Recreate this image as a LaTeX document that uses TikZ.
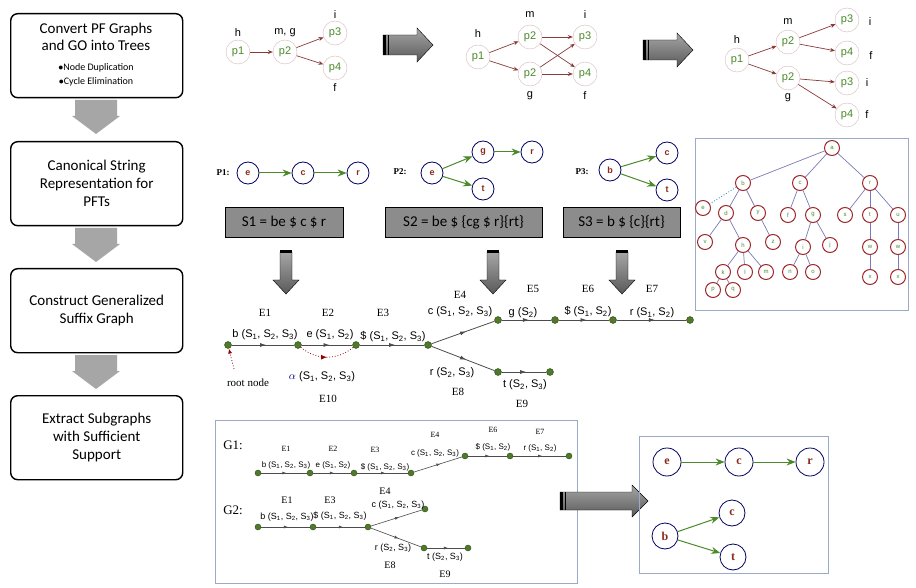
\documentclass[tikz,border=0pt]{standalone}
\usepackage{fontspec}
\setmainfont{Carlito}
\newfontfamily\arl{Liberation Sans}
\newfontfamily\tms{Liberation Serif}
\usetikzlibrary{arrows.meta,decorations.markings,shapes.geometric}
\definecolor{pbrown}{HTML}{8B3A3A}
\definecolor{pgreen}{HTML}{4A8A2A}
\definecolor{dred}{HTML}{8B2A1A}
\definecolor{tred}{HTML}{A0282A}
\definecolor{tedge}{HTML}{7A7AB8}
\definecolor{sgreen}{HTML}{4E7A2A}
\definecolor{boxb}{HTML}{9AAAC8}
\newcommand{\sS}[1]{S\textsubscript{#1}}
\begin{document}
\begin{tikzpicture}[x=1pt,y=-1pt,
 stepbox/.style={draw=black,line width=1.4pt,rounded corners=7pt,minimum width=172pt,minimum height=84pt,anchor=north west,align=center,font=\fontsize{15}{18}\selectfont},
 pn/.style={circle,draw=pbrown!35,fill=white,minimum size=24pt,inner sep=0pt,text=pgreen,font=\arl\fontsize{11}{12}\selectfont},
 pe/.style={draw=pbrown,line width=0.7pt,-{Stealth[length=5pt,width=4pt]}},
 lab/.style={font=\arl\fontsize{11}{12}\selectfont},
 qn/.style={circle,draw=blue!40!black,line width=0.8pt,fill=white,minimum size=22pt,inner sep=0pt,text=dred,font=\arl\bfseries\fontsize{9}{10}\selectfont},
 qe/.style={draw=pgreen,line width=1pt,-{Stealth[length=9pt,width=7pt,inset=3pt]}},
 tn/.style={circle,draw=tred,line width=1pt,fill=white,minimum size=15pt,inner sep=0pt,text=pgreen,font=\arl\fontsize{6}{7}\selectfont},
 te/.style={draw=tedge,line width=0.7pt},
 sn/.style={circle,draw=sgreen!60!black,fill=sgreen,minimum size=7pt,inner sep=0pt},
 se/.style={draw=black!70,line width=0.8pt,postaction={decorate},decoration={markings,mark=at position 0.55 with {\arrow{Latex[length=6pt,width=4pt]}}}},
 sl/.style={font=\arl\fontsize{11}{12}\selectfont},
 el/.style={font=\tms\fontsize{11}{12}\selectfont},
 sel/.style={draw=black!70,line width=0.6pt,postaction={decorate},decoration={markings,mark=at position 0.55 with {\arrow{Latex[length=4pt,width=3pt]}}}},
 ssn/.style={circle,draw=sgreen!60!black,fill=sgreen,minimum size=6pt,inner sep=0pt},
 gsl/.style={font=\arl\fontsize{8}{9}\selectfont},
 gel/.style={font=\tms\fontsize{8}{9}\selectfont},
 hsl/.style={font=\arl\fontsize{9}{10}\selectfont},
 hel/.style={font=\tms\fontsize{10}{11}\selectfont},
 sbox/.style={draw=black,fill=black!45,minimum height=30pt,font=\fontsize{15}{18}\selectfont}]
\useasboundingbox (0,0) rectangle (916,588);
\fill[white] (0,0) rectangle (916,588);

% left column
\node[stepbox] (b1) at (10,13) {};
\node[align=center,font=\fontsize{15}{17}\selectfont] (b1t) at (96,37) {Convert PF Graphs\\and GO into Trees};
\node[font=\fontsize{10}{14}\selectfont,align=center] (b1s) at (96,75) {$\bullet$Node Duplication\\$\bullet$Cycle Elimination};
\node[stepbox] (b2) at (10,141) {Canonical String\\Representation for\\PFTs};
\node[stepbox] (b3) at (10,268) {Construct Generalized\\Suffix Graph};
\node[stepbox] (b4) at (10,395) {Extract Subgraphs\\with Sufficient\\Support};
\foreach \y in {100,228,355}{
 \fill[black!35] (75,\y) -- (117,\y) -- (117,\y+16) -- (120,\y+16) -- (96,\y+34) -- (72,\y+16) -- (75,\y+16) -- cycle;}

% top row graph 1
\node[pn] (a1) at (238,52) {p1};
\node[pn] (a2) at (285,52) {p2};
\node[pn] (a3) at (335,33) {p3};
\node[pn] (a4) at (335,68) {p4};
\draw[pe] (a1) -- (a2); \draw[pe] (a2) -- (a3); \draw[pe] (a2) -- (a4);
\node[lab] (la1) at (238,33) {h};
\node[lab] (la2) at (285,33) {m, g};
\node[lab] (la3) at (335,15) {i};
\node[lab] (la4) at (335,88) {f};
% arrows right
\foreach \x/\y in {383/45,643/50}{
 \shade[top color=black!35,bottom color=black!65,draw=black,line width=0.4pt] (\x,\y-10) -- (\x+34,\y-10) -- (\x+34,\y-17) -- (\x+50,\y) -- (\x+34,\y+17) -- (\x+34,\y+10) -- (\x,\y+10) -- cycle;
 \fill[black] (\x,\y-10) rectangle (\x+3,\y+10);
 \fill[black] (\x+4.5,\y-10) rectangle (\x+5.5,\y+10);}
% graph 2
\node[pn] (c1) at (478,57) {p1};
\node[pn] (c2) at (530,37) {p2};
\node[pn] (c3) at (530,74) {p2};
\node[pn] (c4) at (585,37) {p3};
\node[pn] (c5) at (585,74) {p4};
\draw[pe] (c1) -- (c2); \draw[pe] (c1) -- (c3);
\draw[pe] (c2) -- (c4); \draw[pe] (c2) -- (c5);
\draw[pe] (c3) -- (c4); \draw[pe] (c3) -- (c5);
\node[lab] (lc1) at (478,34) {h};
\node[lab] (lc2) at (530,15) {m};
\node[lab] (lc3) at (530,96) {g};
\node[lab] (lc4) at (585,15) {i};
\node[lab] (lc5) at (585,96) {f};
% graph 3
\node[pn] (d1) at (737,60) {p1};
\node[pn] (d2) at (788,42) {p2};
\node[pn] (d3) at (788,78) {p2};
\node[pn] (d4) at (847,20) {p3};
\node[pn] (d5) at (847,53) {p4};
\node[pn] (d6) at (847,83) {p3};
\node[pn] (d7) at (847,115) {p4};
\draw[pe] (d1) -- (d2); \draw[pe] (d1) -- (d3);
\draw[pe] (d2) -- (d4); \draw[pe] (d2) -- (d5);
\draw[pe] (d3) -- (d6); \draw[pe] (d3) -- (d7);
\node[lab] (ld1) at (737,40) {h};
\node[lab] (ld2) at (788,22) {m};
\node[lab] (ld3) at (788,98) {g};
\node[lab] (ld4) at (870,22) {i};
\node[lab] (ld5) at (871,56) {f};
\node[lab] (ld6) at (867,83) {i};
\node[lab] (ld7) at (867,115) {f};

% P1 P2 P3
\node[font=\tms\bfseries\fontsize{9}{10}\selectfont] (P1) at (223,173) {P1:};
\node[qn] (e1) at (248,173) {e};
\node[qn] (e2) at (303,173) {c};
\node[qn] (e3) at (358,173) {r};
\draw[qe] (e1) -- (e2); \draw[qe] (e2) -- (e3);
\node[font=\tms\bfseries\fontsize{9}{10}\selectfont] (P2) at (400,172) {P2:};
\node[qn] (f1) at (432,173) {e};
\node[qn] (f2) at (483,152) {g};
\node[qn] (f3) at (532,152) {r};
\node[qn] (f4) at (483,189) {t};
\draw[qe] (f1) -- (f2); \draw[qe] (f2) -- (f3); \draw[qe] (f1) -- (f4);
\node[font=\tms\bfseries\fontsize{9}{10}\selectfont] (P3) at (582,172) {P3:};
\node[qn] (g1) at (610,170) {b};
\node[qn] (g2) at (667,153) {c};
\node[qn] (g3) at (667,190) {t};
\draw[qe] (g1) -- (g2); \draw[qe] (g1) -- (g3);
\node[sbox,minimum width=118pt] (S1) at (284,222) {S1 = be \$ c \$ r};
\node[sbox,minimum width=157pt] (S2) at (463.5,222) {S2 = be \$ \{cg \$ r\}\{rt\}};
\node[sbox,minimum width=117pt] (S3) at (621.5,222) {S3 = b \$ \{c\}\{rt\}};
% down arrows
\foreach \x in {286,493,622}{
 \shade[top color=black!35,bottom color=black!65,draw=black,line width=0.4pt] (\x-6,252) -- (\x+6,252) -- (\x+6,280) -- (\x+13,280) -- (\x,294) -- (\x-13,280) -- (\x-6,280) -- cycle;
 \fill[black] (\x-6,250) rectangle (\x+6,253);}

% tree box
\draw[boxb,line width=0.8pt] (695,138) rectangle (908,310);
\node[tn] (ta) at (832,148) {a};
\node[tn] (tb) at (743,183) {b};
\node[tn] (tc) at (800,183) {c};
\node[tn] (tr) at (870,183) {r};
\node[tn] (te) at (703,208) {e};
\node[tn] (td) at (726,213) {d};
\node[tn] (ty) at (758,213) {y};
\node[tn] (tf) at (788,215) {f};
\node[tn] (tg) at (813,215) {g};
\node[tn] (ts) at (845,215) {s};
\node[tn] (tt) at (870,215) {t};
\node[tn] (tu) at (898,215) {u};
\node[tn] (tv) at (705,242) {v};
\node[tn] (th) at (743,245) {h};
\node[tn] (tz) at (773,242) {z};
\node[tn] (ti) at (803,247) {i};
\node[tn] (tj) at (830,245) {j};
\node[tn] (tw1) at (870,247) {w};
\node[tn] (tw2) at (898,247) {w};
\node[tn] (tk) at (723,272) {k};
\node[tn] (tl) at (745,272) {l};
\node[tn] (tm) at (766,272) {m};
\node[tn] (tn1) at (790,272) {n};
\node[tn] (to) at (813,272) {o};
\node[tn] (tx1) at (870,277) {x};
\node[tn] (tx2) at (898,277) {x};
\node[tn] (tp) at (713,290) {p};
\node[tn] (tq) at (733,290) {q};
\foreach \u/\v in {ta/tb,ta/tc,ta/tr,tb/td,tb/ty,tc/tf,tc/tg,tr/ts,tr/tt,tr/tu,td/tv,td/th,ty/tz,tg/ti,tg/tj,tt/tw1,tu/tw2,th/tk,th/tl,th/tm,ti/tn1,ti/to,tw1/tx1,tw2/tx2,tk/tp,tk/tq}
 \draw[te] (\u) -- (\v);
\draw[cyan!60!blue,dotted,line width=0.8pt] (tb) -- (te);

% suffix graph
\node[sn] (s1) at (228,345) {};
\node[sn] (s2) at (298,345) {};
\node[sn] (s3) at (356,345) {};
\node[sn] (s4) at (428,345) {};
\node[sn] (s5) at (498,320) {};
\node[sn] (s6) at (555,320) {};
\node[sn] (s7) at (613,320) {};
\node[sn] (s8) at (690,320) {};
\node[sn] (s9) at (498,372) {};
\node[sn] (s10) at (550,372) {};
\draw[se] (s1) -- (s2); \draw[se] (s2) -- (s3); \draw[se] (s3) -- (s4);
\draw[se] (s4) -- (s5); \draw[se] (s5) -- (s6); \draw[se] (s6) -- (s7);
\draw[se] (s7) -- (s8); \draw[se] (s4) -- (s9); \draw[se] (s9) -- (s10);
\draw[red!60!black,dotted,line width=0.8pt,postaction={decorate},decoration={markings,mark=at position 0.5 with {\arrow{Latex[length=6pt,width=5pt]}}}] (s2) to[out=-40,in=-140] (s3);
\node[el] (E1) at (265,313) {E1};
\node[sl] (l1) at (265,335) {b (\sS1, \sS2, \sS3)};
\node[el] (E2) at (328,313) {E2};
\node[sl] (l2) at (330,335) {e (\sS1, \sS2)};
\node[el] (E3) at (383,313) {E3};
\node[sl] (l3) at (393,337) {\$ (\sS1, \sS2, \sS3)};
\node[el] (E4) at (460,295) {E4};
\node[sl] (l4) at (460,312) {c (\sS1, \sS2, \sS3)};
\node[el] (E5) at (533,289) {E5};
\node[sl] (l5) at (523,313) {g (\sS2)};
\node[el] (E6) at (588,289) {E6};
\node[sl] (l6) at (588,312) {\$ (\sS1, \sS2)};
\node[el] (E7) at (652,289) {E7};
\node[sl] (l7) at (652,313) {r (\sS1, \sS2)};
\node[sl] (l8) at (452,373) {r (\sS2, \sS3)};
\node[el] (E8) at (458,392) {E8};
\node[sl] (l9) at (525,385) {t (\sS2, \sS3)};
\node[el] (E9) at (522,404) {E9};
\node[sl] (l10) at (322,377) {{\color{blue!50!black}$\alpha$} (\sS1, \sS2, \sS3)};
\node[el] (E10) at (328,399) {E10};
\node[el] (root) at (248,383) {root node};
\coordinate (rs) at (234,369);
\draw[red!60!black,dotted,line width=0.8pt,-{Latex[length=5pt,width=4pt]}] (rs) -- (s1);

% G box
\draw[boxb,line width=0.8pt] (215,420) rectangle (577,583);
\node[font=\tms\fontsize{13}{14}\selectfont] (G1) at (233,445) {G1:};
\node[ssn] (h1) at (258,473) {};
\node[ssn] (h2) at (310,473) {};
\node[ssn] (h3) at (354,473) {};
\node[ssn] (h4) at (411,473) {};
\node[ssn] (h5) at (465,456) {};
\node[ssn] (h6) at (510,456) {};
\node[ssn] (h7) at (569,456) {};
\draw[sel] (h1) -- (h2); \draw[sel] (h2) -- (h3); \draw[sel] (h3) -- (h4);
\draw[sel] (h4) -- (h5); \draw[sel] (h5) -- (h6); \draw[sel] (h6) -- (h7);
\node[gel] (gE1) at (286,449) {E1};
\node[gsl] (gl1) at (286,465) {b (\sS1, \sS2, \sS3)};
\node[gel] (gE2) at (333,449) {E2};
\node[gsl] (gl2) at (333,465) {e (\sS1, \sS2)};
\node[gel] (gE3) at (375,450) {E3};
\node[gsl] (gl3) at (385,467) {\$ (\sS1, \sS2, \sS3)};
\node[gel] (gE4) at (435,435) {E4};
\node[gsl] (gl4) at (435,453) {c (\sS1, \sS2, \sS3)};
\node[gel] (gE6) at (493,430) {E6};
\node[gsl] (gl6) at (493,447) {\$ (\sS1, \sS2)};
\node[gel] (gE7) at (540,432) {E7};
\node[gsl] (gl7) at (540,448) {r (\sS1, \sS2)};
\node[font=\tms\fontsize{13}{14}\selectfont] (G2) at (233,510) {G2:};
\node[ssn] (k1) at (258,527) {};
\node[ssn] (k2) at (313,527) {};
\node[ssn] (k3) at (368,527) {};
\node[ssn] (k4) at (425,509) {};
\node[ssn] (k5) at (424,548) {};
\node[ssn] (k6) at (468,548) {};
\draw[sel] (k1) -- (k2); \draw[sel] (k2) -- (k3); \draw[sel] (k3) -- (k4);
\draw[sel] (k3) -- (k5); \draw[sel] (k5) -- (k6);
\node[hel] (hE1) at (287,500) {E1};
\node[hsl] (hl1) at (287,517) {b (\sS1, \sS2, \sS3)};
\node[hel] (hE3) at (330,500) {E3};
\node[hsl] (hl3) at (340,516) {\$ (\sS1, \sS2, \sS3)};
\node[hel] (hE4) at (385,491) {E4};
\node[hsl] (hl4) at (398,505) {c (\sS1, \sS2, \sS3)};
\node[hsl] (hl8) at (393,548) {r (\sS2, \sS3)};
\node[hel] (hE8) at (390,565) {E8};
\node[hsl] (hl9) at (445,557) {t (\sS2, \sS3)};
\node[hel] (hE9) at (445,574) {E9};

% right arrow bottom
\shade[top color=black!35,bottom color=black!65,draw=black,line width=0.4pt] (560,492) -- (632,492) -- (632,485) -- (648,501) -- (632,517) -- (632,510) -- (560,510) -- cycle;
\fill[black] (560,492) rectangle (563,510);
\fill[black] (564.5,492) rectangle (565.5,510);

% result box
\draw[boxb,line width=0.8pt] (639,436) rectangle (828,573);
\node[qn,minimum size=28pt,font=\tms\bfseries\fontsize{12}{13}\selectfont] (r1) at (667,462) {e};
\node[qn,minimum size=28pt,font=\tms\bfseries\fontsize{12}{13}\selectfont] (r2) at (739,462) {c};
\node[qn,minimum size=28pt,font=\tms\bfseries\fontsize{12}{13}\selectfont] (r3) at (810,462) {r};
\node[qn,minimum size=26pt,font=\tms\bfseries\fontsize{12}{13}\selectfont] (r4) at (732,513) {c};
\node[qn,minimum size=26pt,font=\tms\bfseries\fontsize{12}{13}\selectfont] (r5) at (665,536) {b};
\node[qn,minimum size=26pt,font=\tms\bfseries\fontsize{12}{13}\selectfont] (r6) at (733,557) {t};
\draw[qe] (r1) -- (r2); \draw[qe] (r2) -- (r3);
\draw[qe] (r5) -- (r4); \draw[qe] (r5) -- (r6);
\end{tikzpicture}
\end{document}
